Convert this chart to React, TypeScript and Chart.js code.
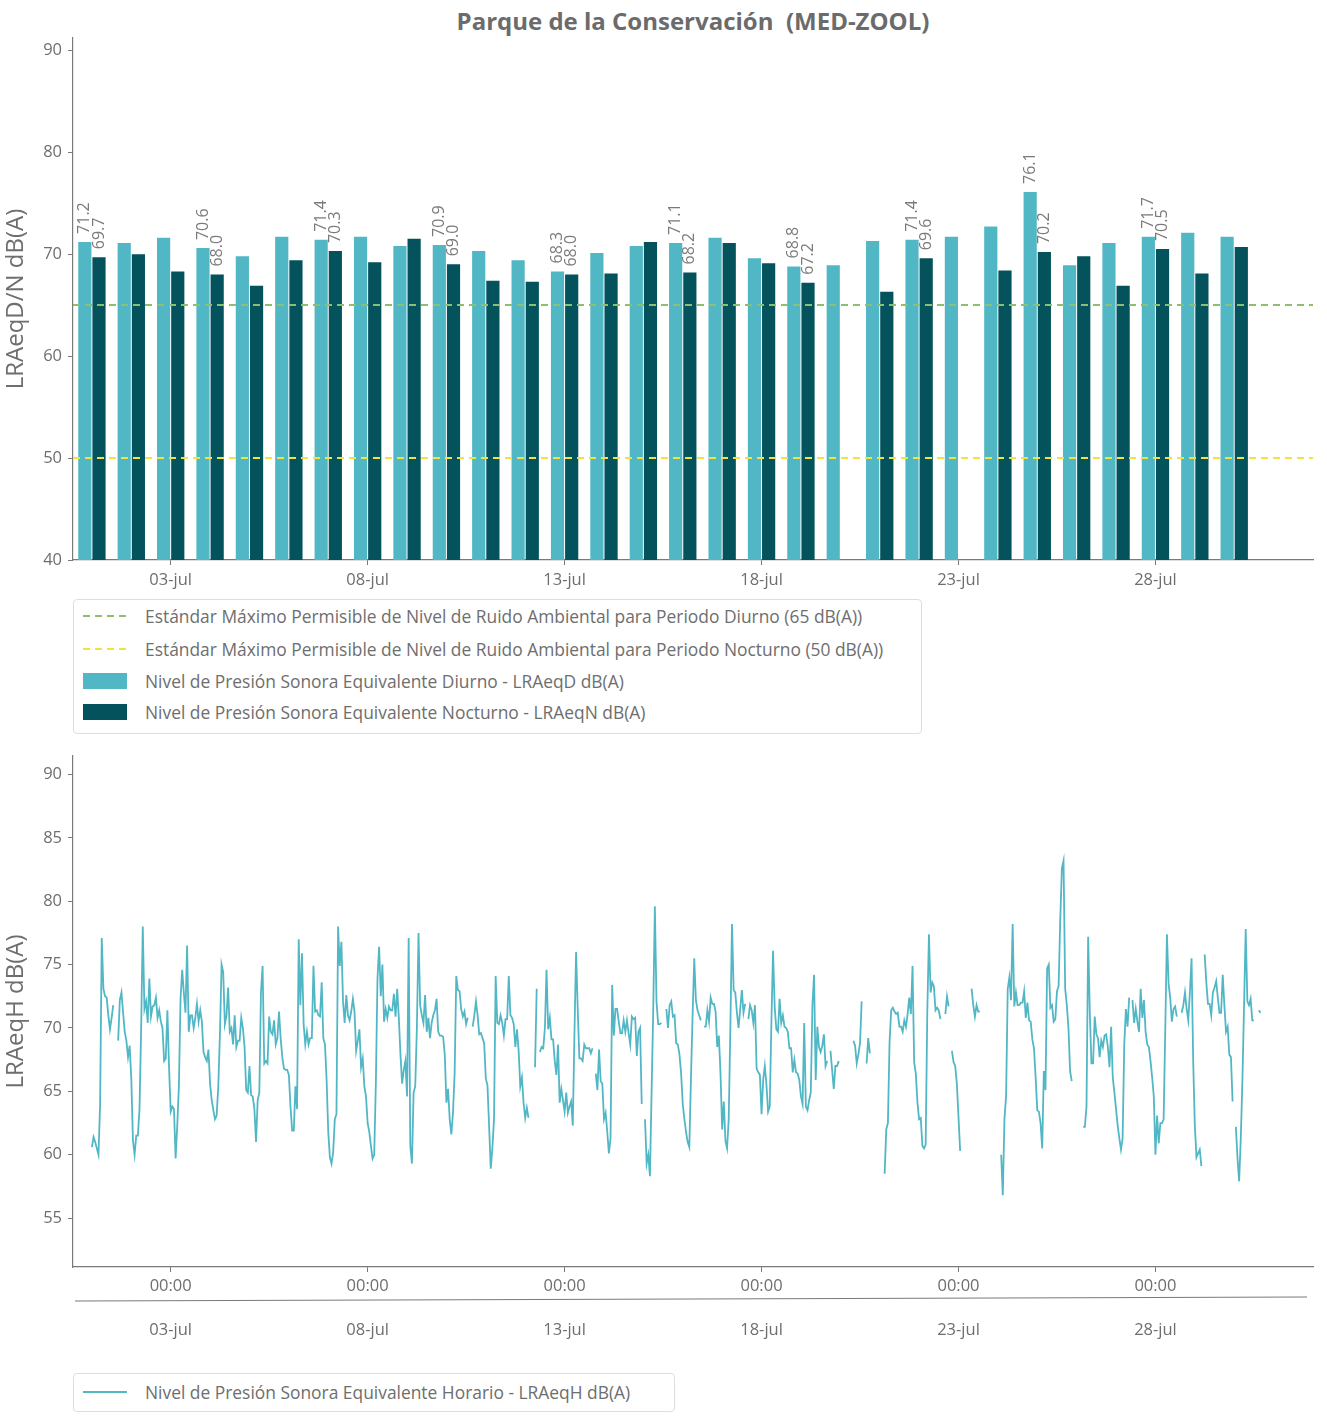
import React, { useEffect, useRef } from "react";
import { Chart, registerables } from "chart.js";

Chart.register(...registerables);

const FONT = "'Open Sans', 'Noto Sans', sans-serif";
const TEXT = "#6e6e6e";
const AXIS = "#7a7a7a";
const LIGHT = "#52b7c5";
const DARK = "#03525c";
const GREEN = "#8cbf6e";
const YELLOW = "#f3e337";

const DAYS = [
  "01-jul", "02-jul", "03-jul", "04-jul", "05-jul", "06-jul", "07-jul", "08-jul", "09-jul", "10-jul",
  "11-jul", "12-jul", "13-jul", "14-jul", "15-jul", "16-jul", "17-jul", "18-jul", "19-jul", "20-jul",
  "21-jul", "22-jul", "23-jul", "24-jul", "25-jul", "26-jul", "27-jul", "28-jul", "29-jul", "30-jul",
];

const DIURNO = [
  71.2, 71.1, 71.6, 70.6, 69.8, 71.7, 71.4, 71.7, 70.8, 70.9,
  70.3, 69.4, 68.3, 70.1, 70.8, 71.1, 71.6, 69.6, 68.8, 68.9,
  71.3, 71.4, 71.7, 72.7, 76.1, 68.9, 71.1, 71.7, 72.1, 71.7,
];

const NOCTURNO: (number | null)[] = [
  69.7, 70.0, 68.3, 68.0, 66.9, 69.4, 70.3, 69.2, 71.5, 69.0,
  67.4, 67.3, 68.0, 68.1, 71.2, 68.2, 71.1, 69.1, 67.2, null,
  66.3, 69.6, null, 68.4, 70.2, 69.8, 66.9, 70.5, 68.1, 70.7,
];

// days whose two bars carry a value label
const LABELED = [0, 3, 6, 9, 12, 15, 18, 21, 24, 27];
const TICK_DAYS = [2, 7, 12, 17, 22, 27];

const STD_DIURNO = 65;
const STD_NOCTURNO = 50;

const Y_TICKS_TOP = [40, 50, 60, 70, 80, 90];
const Y_TICKS_BOTTOM = [55, 60, 65, 70, 75, 80, 85, 90];

// hourly LRAeqH, one row per day (00:00 .. 23:00)
const HOURLY_BY_DAY: (number | null)[][] = [
  [60.6, 61.4, 61.0, 60.5, 60.0, 64.0, 77.1, 73.1, 72.5, 72.4, 71.0, 69.9, 70.8, 71.8, null, null, 69.0, 72.2, 72.8, 71.2, 69.7, 69.0, 67.7, 68.6],
  [66.0, 61.1, 60.0, 61.5, 61.5, 63.6, 70.0, 78.0, 71.5, 72.1, 70.4, 73.9, 70.9, 71.7, 71.8, 72.4, 70.8, 71.4, 70.5, 70.0, 67.4, 67.6, 71.4, 66.9],
  [63.4, 63.8, 63.6, 59.7, 62.3, 65.4, 72.3, 74.6, 72.8, 71.2, 76.5, 69.7, 71.0, 71.0, 70.0, 70.8, 71.9, 70.5, 71.4, 70.5, 68.1, 67.7, 67.4, 68.3],
  [65.6, 64.3, 63.5, 62.8, 63.1, 65.4, 69.5, 75.0, 74.4, 70.3, 71.0, 73.2, 69.7, 70.0, 68.7, 71.0, 68.5, 69.0, 69.0, 70.8, 70.0, 68.5, 65.1, 64.9],
  [67.0, 64.7, 64.6, 63.6, 61.0, 64.3, 64.9, 72.8, 74.9, 67.2, 67.4, 67.2, 70.9, 69.7, 69.5, 70.6, 68.7, 69.2, 71.3, 69.2, 67.7, 66.8, 66.7, 66.7],
  [66.3, 63.8, 61.9, 61.9, 65.4, 63.6, 77.0, 71.8, 75.9, 70.3, 68.7, 69.7, 68.7, 69.2, 69.2, 74.9, 71.3, 71.4, 71.0, 70.9, 73.6, 69.2, 68.7, 65.9],
  [61.8, 59.8, 59.3, 60.2, 62.8, 63.2, 78.0, 74.9, 76.8, 72.1, 70.4, 72.6, 71.0, 70.6, 71.3, 72.3, 71.3, 68.2, 69.0, 69.9, 66.9, 67.6, 65.4, 64.6],
  [62.5, 61.8, 60.7, 59.7, 60.0, 65.6, 73.9, 76.4, 72.5, 75.0, 70.5, 71.5, 70.8, 71.7, 71.4, 71.4, 72.7, 70.9, 73.1, 70.8, 67.9, 65.6, 66.7, 67.4],
  [64.6, 77.1, 60.7, 59.3, 64.9, 65.4, 70.0, 77.5, 71.8, 71.0, 70.4, 72.6, 69.7, 70.8, 69.2, 70.4, 71.0, 71.4, 72.3, 69.7, 69.4, 69.4, 69.3, 67.9],
  [64.1, 65.2, 62.8, 61.6, 63.3, 66.4, 74.1, 73.0, 72.9, 71.5, 70.9, 71.3, 70.3, 70.8, null, null, 70.1, 71.0, 72.1, 71.0, 69.5, 69.6, 69.2, 68.8],
  [66.0, 65.5, 62.3, 58.9, 60.5, 62.8, 74.1, 70.4, 70.3, 71.0, 70.4, 69.4, 70.7, 70.7, 74.1, 71.0, 70.8, 70.3, 68.5, 69.9, 68.2, 65.4, 66.1, 64.1],
  [62.9, 63.7, 62.9, null, null, null, 66.9, 73.1, null, 68.1, 68.5, 68.4, 70.0, 74.6, 69.9, 70.8, 69.1, 69.1, 67.4, 66.3, 68.7, 64.1, 65.2, 64.3],
  [63.4, 64.9, 63.3, 63.8, 64.2, 62.3, 69.5, 76.0, 71.5, 67.6, 67.6, 67.4, 68.7, 68.4, 68.4, 68.4, 68.0, 68.4, null, 66.4, 65.1, 68.3, 65.8, 65.6],
  [62.8, 63.3, 61.8, 60.1, 61.3, 73.4, 69.4, 71.5, 71.5, 70.5, 69.6, 69.6, 70.6, 69.7, 70.6, 69.6, 68.7, 70.9, 70.7, 70.8, 67.8, 69.7, 70.0, 64.0],
  [null, 62.8, 59.3, 60.0, 58.3, 64.9, 71.3, 79.6, 72.1, 70.3, 70.3, 70.4, null, null, 71.5, 70.0, 71.8, 72.1, 70.9, 71.0, 68.8, 68.7, 67.9, 66.4],
  [64.0, 62.8, 61.8, 61.0, 60.6, 66.1, 71.0, 75.5, 72.2, 71.4, 71.0, 70.6, null, 70.1, 70.1, 71.4, 70.5, 72.4, 71.9, 71.9, 71.3, 68.5, 69.4, 66.4],
  [62.0, 64.2, 61.1, 60.5, 62.8, 70.0, 78.2, 73.0, 72.8, 71.2, 70.0, 71.5, 73.0, 71.2, 71.9, null, 70.7, 71.8, 71.4, 70.4, 71.8, 66.8, 66.5, 66.3],
  [63.2, 65.9, 67.0, 65.5, 63.4, 63.8, 70.4, 76.1, 71.7, 69.9, 69.7, 72.3, 70.4, 71.0, 70.1, 70.0, 69.7, 68.4, 68.4, 66.5, 67.5, 66.5, 66.4, 65.9],
  [64.6, 64.0, 70.4, 63.8, 63.5, 64.3, 64.9, 71.8, 74.2, 65.9, 70.1, 68.5, 68.1, 68.6, 69.5, 67.0, 67.4, null, 68.2, 66.7, 65.2, 67.0, 67.0, 67.4],
  [null, null, null, null, null, null, null, null, 69.0, 68.6, 67.2, 67.9, 68.8, 72.1, null, null, 67.2, 69.2, 68.0, null, null, null, null, null],
  [null, null, null, 58.5, 62.0, 62.5, 68.9, 71.4, 71.6, 71.3, 71.1, 71.2, 70.1, 70.1, 69.7, 70.6, 70.1, 71.1, 72.4, 71.1, 74.9, 67.3, 66.4, 64.1],
  [62.8, 62.9, 60.7, 60.5, 60.8, 71.3, 77.4, 72.8, 73.6, 73.3, 71.4, 71.6, 71.4, 70.7, null, null, 71.1, 72.5, 71.7, null, 68.2, 67.3, 67.0, 65.6],
  [63.0, 60.3, null, null, null, null, null, null, 73.1, 71.8, 70.9, 71.8, 71.3, 71.3, null, null, null, null, null, null, null, null, null, null],
  [null, null, 60.0, 56.8, 62.8, 64.6, 73.1, 74.0, 72.2, 78.2, 71.7, 72.8, 71.8, 71.8, 72.0, 72.0, 72.9, 70.8, 72.0, 70.6, 70.5, 69.1, 68.4, 66.1],
  [63.5, 63.4, 62.5, 60.5, 66.6, 65.1, 74.7, 75.0, 71.6, 71.8, 70.5, 70.7, 72.9, 73.3, 78.5, 82.6, 83.2, 73.1, 71.8, 70.0, 66.6, 65.8, null, null],
  [null, null, null, null, 62.2, 62.2, 63.8, 77.2, 71.3, 67.2, 67.2, 70.9, 69.5, 69.2, 67.7, 69.0, 68.5, 69.4, 69.5, 68.5, 66.9, 70.1, 66.1, 64.9],
  [63.6, 62.3, 61.3, 60.4, 61.3, 68.7, 71.5, 70.1, 72.4, null, 72.2, 70.4, 71.5, 70.5, 69.7, 73.1, 70.8, 72.2, 69.7, 68.7, 68.5, 67.4, 66.1, 64.6],
  [60.0, 63.1, 60.9, 62.5, 62.5, 62.8, 70.0, 77.4, 73.5, 72.4, 70.5, 71.5, 71.7, 70.9, null, null, 71.2, 71.8, 72.8, 71.5, 70.6, 72.8, 75.5, 67.4],
  [62.3, 59.8, 60.1, 60.4, 59.1, null, 75.8, 73.6, 71.9, 71.9, 71.0, 72.8, 73.2, 73.7, 72.4, 71.2, 71.2, 74.2, 71.8, 69.7, 70.1, 67.9, 67.7, 64.2],
  [null, 62.2, 59.7, 57.9, 61.3, 65.9, 71.8, 77.8, 72.1, 71.8, 72.3, 70.6, 70.6, null, null, 71.4, 71.2],
];

const HOURLY = HOURLY_BY_DAY.flat();

const X_MIN = -0.48;
const X_MAX = 31.0;

const tickFont = { family: FONT, size: 16.5 };

function yAxis(min: number, max: number, ticks: number[], title: string) {
  return {
    min,
    max,
    afterBuildTicks: (s: any) => {
      s.ticks = ticks.map((v) => ({ value: v }));
    },
    afterFit: (s: any) => {
      s.width = 73;
    },
    ticks: { font: tickFont, color: TEXT, padding: 6 },
    grid: { drawOnChartArea: false, tickLength: 5, color: AXIS },
    border: { color: AXIS, width: 1.2 },
    title: {
      display: true,
      text: title,
      color: TEXT,
      font: { family: FONT, size: 24 },
      padding: { top: 2, bottom: 0 },
    },
  };
}

function xAxis(height: number, labelFont: any, padding: number, callback: (v: any) => any) {
  return {
    type: "linear",
    min: X_MIN,
    max: X_MAX,
    offset: false,
    afterBuildTicks: (s: any) => {
      s.ticks = TICK_DAYS.map((v) => ({ value: v }));
    },
    afterFit: (s: any) => {
      s.height = height;
    },
    ticks: {
      font: labelFont,
      color: TEXT,
      padding,
      maxRotation: 0,
      autoSkip: false,
      callback,
    },
    grid: { offset: false, drawOnChartArea: false, tickLength: 5, color: AXIS },
    border: { color: AXIS, width: 1.2 },
  };
}

function TopChart() {
  const canvasRef = useRef<HTMLCanvasElement | null>(null);

  useEffect(() => {
    if (!canvasRef.current) return;

    const barLabels = {
      id: "barLabels",
      afterDatasetsDraw(chart: any) {
        const ctx = chart.ctx;
        ctx.save();
        ctx.fillStyle = "#7a7a7a";
        ctx.font = `16px ${FONT}`;
        ctx.textAlign = "left";
        ctx.textBaseline = "middle";
        [0, 1].forEach((di) => {
          const meta = chart.getDatasetMeta(di);
          const values = di === 0 ? DIURNO : NOCTURNO;
          LABELED.forEach((j) => {
            const el = meta.data[j];
            const v = values[j];
            if (!el || v == null) return;
            ctx.save();
            ctx.translate(el.x, el.y - 8);
            ctx.rotate(-Math.PI / 2);
            ctx.fillText(v.toFixed(1), 0, 0);
            ctx.restore();
          });
        });
        ctx.restore();
      },
    };

    const chart = new Chart(canvasRef.current, {
      type: "bar",
      data: {
        datasets: [
          {
            label: "Diurno",
            data: DIURNO.map((y, i) => ({ x: i, y })),
            backgroundColor: LIGHT,
            categoryPercentage: 0.72,
            barPercentage: 0.93,
            order: 1,
          },
          {
            label: "Nocturno",
            data: NOCTURNO.map((y, i) => ({ x: i, y })),
            backgroundColor: DARK,
            categoryPercentage: 0.72,
            barPercentage: 0.93,
            order: 1,
          },
          {
            type: "line",
            label: "65",
            data: [
              { x: X_MIN, y: STD_DIURNO },
              { x: X_MAX, y: STD_DIURNO },
            ],
            borderColor: GREEN,
            borderWidth: 2,
            borderDash: [7, 5],
            pointRadius: 0,
            order: 0,
          },
          {
            type: "line",
            label: "50",
            data: [
              { x: X_MIN, y: STD_NOCTURNO },
              { x: X_MAX, y: STD_NOCTURNO },
            ],
            borderColor: YELLOW,
            borderWidth: 2,
            borderDash: [7, 5],
            pointRadius: 0,
            order: 0,
          },
        ] as any,
      },
      options: {
        animation: false,
        responsive: false,
        maintainAspectRatio: false,
        layout: { padding: { top: 38, right: 14, left: 0, bottom: 0 } },
        plugins: { legend: { display: false }, tooltip: { enabled: false } },
        scales: {
          x: xAxis(40, tickFont, 5, (v: any) => DAYS[v]) as any,
          y: yAxis(40, 91.2, Y_TICKS_TOP, "LRAeqD/N dB(A)") as any,
        },
      },
      plugins: [barLabels],
    });

    return () => chart.destroy();
  }, []);

  return <canvas ref={canvasRef} width={1327} height={600} style={{ display: "block" }} />;
}

function BottomChart() {
  const canvasRef = useRef<HTMLCanvasElement | null>(null);

  useEffect(() => {
    if (!canvasRef.current) return;

    const separator = {
      id: "separator",
      afterDraw(chart: any) {
        const { ctx, chartArea } = chart;
        ctx.save();
        ctx.strokeStyle = "#7a7a7a";
        ctx.lineWidth = 1.2;
        ctx.beginPath();
        ctx.moveTo(chartArea.left + 2, chartArea.bottom + 34);
        ctx.lineTo(chartArea.right - 6, chartArea.bottom + 30);
        ctx.stroke();
        ctx.restore();
      },
    };

    const chart = new Chart(canvasRef.current, {
      type: "line",
      data: {
        datasets: [
          {
            label: "Horario",
            data: HOURLY.map((y, i) => ({ x: i / 24, y })),
            borderColor: LIGHT,
            borderWidth: 1.8,
            pointRadius: 0,
            spanGaps: false,
            tension: 0,
          },
        ] as any,
      },
      options: {
        animation: false,
        responsive: false,
        maintainAspectRatio: false,
        layout: { padding: { top: 5, right: 14, left: 0, bottom: 0 } },
        plugins: { legend: { display: false }, tooltip: { enabled: false } },
        scales: {
          x: xAxis(80, { family: FONT, size: 16.5, lineHeight: "22px" }, 3, (v: any) => ["00:00", "", DAYS[v]]) as any,
          y: yAxis(51.14, 91.47, Y_TICKS_BOTTOM, "LRAeqH dB(A)") as any,
        },
      },
      plugins: [separator],
    });

    return () => chart.destroy();
  }, []);

  return <canvas ref={canvasRef} width={1327} height={607} style={{ display: "block" }} />;
}

function DashHandle({ color }: { color: string }) {
  return (
    <svg width={46} height={6} style={{ display: "block" }}>
      <line x1={1} y1={3} x2={45} y2={3} stroke={color} strokeWidth={2} strokeDasharray="7 5" />
    </svg>
  );
}

function LineHandle({ color }: { color: string }) {
  return (
    <svg width={46} height={6} style={{ display: "block" }}>
      <line x1={1} y1={3} x2={45} y2={3} stroke={color} strokeWidth={2} />
    </svg>
  );
}

function PatchHandle({ color }: { color: string }) {
  return <div style={{ width: 44, height: 16, background: color, marginLeft: 1 }} />;
}

function LegendRow({ handle, text, top }: { handle: React.ReactNode; text: string; top: number }) {
  return (
    <div style={{ position: "absolute", left: 8, top, height: 24, display: "flex", alignItems: "center" }}>
      <div style={{ width: 63, display: "flex", alignItems: "center" }}>{handle}</div>
      <span>{text}</span>
    </div>
  );
}

const legendBox: React.CSSProperties = {
  position: "absolute",
  left: 73,
  border: "1px solid #dedede",
  borderRadius: 4,
  background: "#fff",
  boxSizing: "border-box",
  fontFamily: FONT,
  fontSize: 17.4,
  color: TEXT,
  whiteSpace: "nowrap",
};

export default function App() {
  return (
    <div style={{ position: "absolute", left: 0, top: 0, width: 1327, height: 1421, background: "#fff", fontFamily: FONT }}>
      <div
        style={{
          position: "absolute",
          left: 73,
          top: 4,
          width: 1240,
          textAlign: "center",
          fontWeight: 700,
          fontSize: 24,
          color: "#6b6b6b",
        }}
      >
        Parque de la Conservación&nbsp;&nbsp;(MED-ZOOL)
      </div>
      <div style={{ position: "absolute", left: 0, top: 0 }}>
        <TopChart />
      </div>
      <div style={{ ...legendBox, top: 599, width: 849, height: 135 }}>
        <LegendRow top={4} handle={<DashHandle color={GREEN} />} text="Estándar Máximo Permisible de Nivel de Ruido Ambiental para Periodo Diurno (65 dB(A))" />
        <LegendRow top={37} handle={<DashHandle color={YELLOW} />} text="Estándar Máximo Permisible de Nivel de Ruido Ambiental para Periodo Nocturno (50 dB(A))" />
        <LegendRow top={69} handle={<PatchHandle color={LIGHT} />} text="Nivel de Presión Sonora Equivalente Diurno - LRAeqD dB(A)" />
        <LegendRow top={100} handle={<PatchHandle color={DARK} />} text="Nivel de Presión Sonora Equivalente Nocturno - LRAeqN dB(A)" />
      </div>
      <div style={{ position: "absolute", left: 0, top: 740 }}>
        <BottomChart />
      </div>
      <div style={{ ...legendBox, top: 1373, width: 602, height: 39 }}>
        <LegendRow top={6} handle={<LineHandle color={LIGHT} />} text="Nivel de Presión Sonora Equivalente Horario - LRAeqH dB(A)" />
      </div>
    </div>
  );
}
